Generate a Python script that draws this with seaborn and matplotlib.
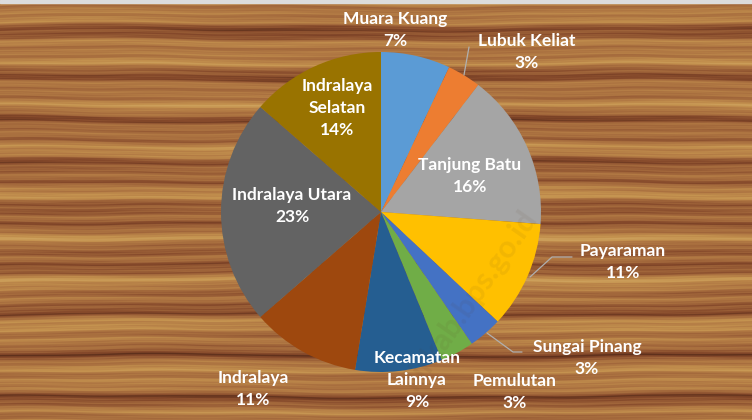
"""Pie chart of district shares drawn over a wood-like background."""

import matplotlib
matplotlib.use('Agg')
import matplotlib.pyplot as plt
from matplotlib.colors import LinearSegmentedColormap
import numpy as np
import seaborn as sns

# data
kecamatan = ['Muara Kuang', 'Lubuk Keliat', 'Tanjung Batu', 'Payaraman',
             'Sungai Pinang', 'Pemulutan', 'Kecamatan\nLainnya', 'Indralaya',
             'Indralaya Utara', 'Indralaya\nSelatan']
persen = [7.0, 3.4, 15.8, 10.8, 3.4, 3.4, 8.8, 11.0, 22.8, 13.6]
warna = ['#5B9BD5', '#ED7D31', '#A5A5A5', '#FFC000', '#4472C4',
         '#70AD47', '#255E91', '#9E480E', '#636363', '#997300']

# label centres in pixels (x, y from top)
posisi_label = [(395, 30), (527, 52), (470, 176), (623, 262), (587, 358),
                (515, 392), (417, 380), (253, 389), (292, 206), (337, 108)]
garis_penunjuk = {
    1: [(464, 75), (469, 47)],
    3: [(530, 277), (552, 257), (572, 257)],
    4: [(487, 333), (513, 352), (522, 352)],
}

W, H = 752, 420

sns.set_style('white')
plt.rcParams['font.family'] = ['Lato', 'DejaVu Sans']

fig = plt.figure(figsize=(W / 100, H / 100), dpi=100)
ax = fig.add_axes([0, 0, 1, 1])

# wood texture for the background (almost straight horizontal grain)
yy, xx = np.mgrid[0:H, 0:W].astype(float)
goyang = 1.2 * np.sin(xx / 97.0 + yy / 57.0) + 0.7 * np.sin(xx / 37.0 - yy / 23.0)
yw = yy + goyang
serat = (np.sin(0.137 * yw + 0.4)
         + 0.8 * np.sin(0.291 * yw + 1.9)
         + 0.6 * np.sin(0.613 * yw + 0.7 + 0.3 * np.sin(xx / 47.0))
         + 0.35 * np.sin(1.37 * yw + 2.2 + 0.6 * np.sin(xx / 19.0))
         + 0.3 * np.sin(0.011 * xx + 0.05 * yy) * np.sin(0.071 * yw)
         + 0.2 * np.sin(2.9 * yw + 0.4 * np.sin(xx / 9.0)))
serat = (serat - serat.min()) / (serat.max() - serat.min())
kayu = LinearSegmentedColormap.from_list(
    'kayu', ['#5e301c', '#84482a', '#a0653a', '#b27a44', '#c4924f', '#cfa45f'])
ax.imshow(serat, cmap=kayu, extent=[0, W, 0, H], aspect='auto',
          interpolation='bilinear', zorder=0)
ax.axhspan(H - 3, H, color='#dcdcdc', zorder=1)

palet = sns.color_palette(warna)
ax.pie(persen, colors=palet, startangle=90, counterclock=False,
       center=(381, H - 212), radius=160, frame=True,
       wedgeprops=dict(linewidth=0, zorder=2))

# faint watermark
ax.text(470, H - 300, 'ilirkab.bps.go.id', rotation=55, fontsize=22,
        fontweight='bold', color='#5a3a20', alpha=0.08, ha='center',
        va='center', zorder=3)

for idx, pts in garis_penunjuk.items():
    xs = [p[0] for p in pts]
    ys = [H - p[1] for p in pts]
    ax.plot(xs, ys, color='#b0b0b0', linewidth=0.9, zorder=3)

for nama, nilai, (lx, ly) in zip(kecamatan, persen, posisi_label):
    teks = f'{nama}\n{nilai:.0f}%'
    ax.text(lx, H - ly, teks, ha='center', va='center', color='white',
            fontsize=12.5, fontweight='bold', linespacing=1.45, zorder=4)

ax.set_xlim(0, W)
ax.set_ylim(0, H)
ax.set_aspect('auto')
ax.axis('off')

fig.savefig('out.png', dpi=100)
